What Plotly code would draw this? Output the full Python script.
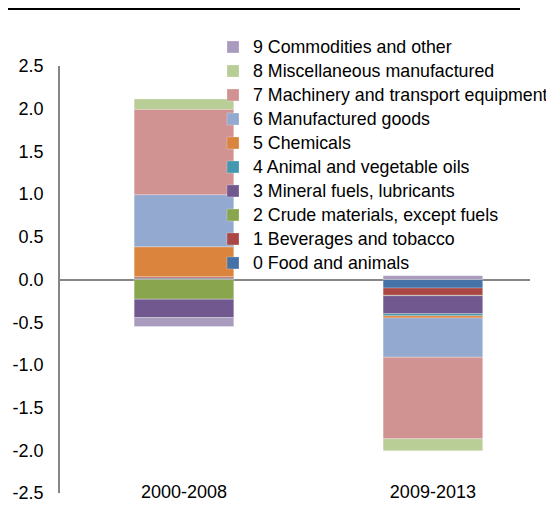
import plotly.graph_objects as go

periods = ["2000-2008", "2009-2013"]
series_names = [
    "0 Food and animals",
    "1 Beverages and tobacco",
    "2 Crude materials, except fuels",
    "3 Mineral fuels, lubricants",
    "4 Animal and vegetable oils",
    "5 Chemicals",
    "6 Manufactured goods",
    "7 Machinery and transport equipment",
    "8 Miscellaneous manufactured",
    "9 Commodities and other",
]
food = [0.015, -0.10]
beverages = [0.015, -0.085]
crude = [-0.23, -0.005]
fuels = [-0.215, -0.21]
oils = [0.003, -0.025]
chemicals = [0.35, -0.025]
manufactured = [0.61, -0.46]
machinery = [1.0, -0.955]
misc = [0.12, -0.14]
commodities = [-0.105, 0.045]
series_values = [food, beverages, crude, fuels, oils, chemicals, manufactured, machinery, misc, commodities]
colors = ["#4572A7", "#AA4643", "#89A54E", "#71588F", "#4198AF",
          "#DB843D", "#93A9CF", "#D19392", "#B9CD96", "#A99BBD"]
y_ticks = [2.5, 2.0, 1.5, 1.0, 0.5, 0.0, -0.5, -1.0, -1.5, -2.0, -2.5]

FONT = "Liberation Sans, Arial, sans-serif"
LEGEND_TEXT_PX = 17.8

fig = go.Figure()
for name, vals, col in zip(series_names, series_values, colors):
    fig.add_trace(go.Bar(
        x=[0, 1], y=vals, width=0.4,
        name=f"<span style='font-size:{LEGEND_TEXT_PX}px'>{name}</span>",
        marker=dict(color=col, line=dict(color="rgba(255,255,255,0.5)", width=0.5)),
    ))

# the page body adds an 8px offset, so the figure is drawn 8px smaller
W, H = 546, 518
L, R, T, B = 52, 24, 58, 33
pw, ph = W - L - R, H - T - B

fig.update_layout(
    width=W, height=H,
    margin=dict(l=L, r=R, t=T, b=B, pad=0, autoexpand=False),
    paper_bgcolor="white", plot_bgcolor="white",
    barmode="relative",
    font=dict(family=FONT, size=18, color="#000000"),
    showlegend=True,
    legend=dict(
        traceorder="reversed",
        x=(205 - L) / pw, y=(H - B - 22) / ph, xanchor="left", yanchor="top",
        font=dict(family=FONT, size=16.15, color="#000000"),
        bgcolor="rgba(0,0,0,0)", itemwidth=30, tracegroupgap=0,
    ),
    xaxis=dict(
        tickmode="array", tickvals=[0, 1], ticktext=periods,
        range=[-0.498, 1.39], showline=False, showgrid=False,
        zeroline=False, ticks="", tickfont=dict(size=18),
        ticklabelstandoff=-14,
    ),
    yaxis=dict(
        range=[-2.5, 2.5], tickmode="array", tickvals=y_ticks,
        ticktext=[f"{v:.1f}" for v in y_ticks],
        showgrid=False, showline=True, linecolor="#868686", linewidth=1.5,
        zeroline=True, zerolinecolor="#868686", zerolinewidth=1.5,
        ticks="outside", ticklen=11, tickcolor="rgba(0,0,0,0)",
        tickfont=dict(size=18),
    ),
)

# header rule line above the chart
fig.add_shape(type="line", xref="paper", yref="paper",
              x0=(0 - L) / pw, x1=(512 - L) / pw,
              y0=(H - B - 1) / ph, y1=(H - B - 1) / ph,
              line=dict(color="#000000", width=2))

fig.write_html("out.html")
